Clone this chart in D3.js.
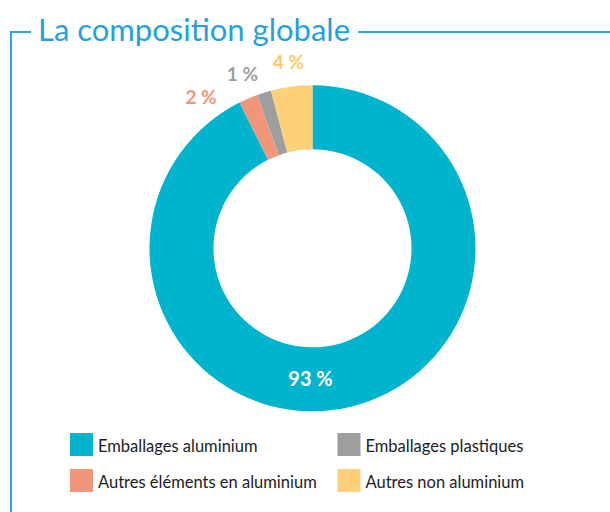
<!DOCTYPE html>
<html>
<head>
<meta charset="utf-8">
<script src="https://cdn.jsdelivr.net/npm/d3@7/dist/d3.min.js"></script>
<style>
  html, body { margin: 0; padding: 0; background: #fff; }
  svg { display: block; }
</style>
</head>
<body>
<svg id="chart" width="610" height="512"></svg>
<script>
// ---- data ----
const title = "La composition globale";
const categories = ["Emballages aluminium", "Autres éléments en aluminium", "Emballages plastiques", "Autres non aluminium"];
const values = [92.6, 1.9, 1.4, 4.1];
const labels = ["93 %", "2 %", "1 %", "4 %"];
const colors = ["#00b4cd", "#f1967b", "#9e9e9e", "#fed077"];
const labelColors = ["#ffffff", "#f1967b", "#9e9e9e", "#fdc96a"];
const legendOrder = [0, 1, 2, 3]; // grid: left column top/bottom, then right column top/bottom

const svg = d3.select("#chart");
const frameColor = "#2ba6e0";
const font = "Lato, 'Open Sans', sans-serif";

// ---- title & frame ----
const titleText = svg.append("text")
  .attr("x", 38).attr("y", 41)
  .attr("font-family", font)
  .attr("font-size", 31)
  .attr("fill", "#1fa2dc")
  .text(title);
const tw = titleText.node().getComputedTextLength();
svg.append("path")
  .attr("d", `M11,512 V32 H31 M${38 + tw + 8},32 H610`)
  .attr("fill", "none")
  .attr("stroke", frameColor)
  .attr("stroke-width", 2);

// ---- donut ----
const cx = 312.5, cy = 248.3, rOuter = 163, rInner = 99;
const g = svg.append("g").attr("transform", `translate(${cx},${cy})`);
const pie = d3.pie().sort(null).value(d => d);
const arcs = pie(values);
const arc = d3.arc().innerRadius(rInner).outerRadius(rOuter);

g.selectAll("path.slice")
  .data(arcs)
  .join("path")
  .attr("class", "slice")
  .attr("d", arc)
  .attr("fill", (d, i) => colors[i]);

// ---- labels ----
const midR = (rInner + rOuter) / 2;
g.append("text")
  .attr("x", -2)
  .attr("y", midR - 1)
  .attr("text-anchor", "middle")
  .attr("dominant-baseline", "central")
  .attr("font-family", font)
  .attr("font-weight", 700)
  .attr("font-size", 20)
  .attr("fill", labelColors[0])
  .text(labels[0]);

const small = arcs.slice(1).map((d, k) => ({ i: k + 1, a: 2 * Math.PI - (d.startAngle + d.endAngle) / 2 }));
small.sort((p, q) => p.a - q.a);
const minSep = 14.5 * Math.PI / 180;
for (let k = 1; k < small.length; k++) {
  if (small[k].a < small[k - 1].a + minSep) small[k].a = small[k - 1].a + minSep;
}
const rLabel = 188;
small.forEach(s => {
  g.append("text")
    .attr("x", -Math.sin(s.a) * rLabel)
    .attr("y", -Math.cos(s.a) * rLabel)
    .attr("text-anchor", "middle")
    .attr("dominant-baseline", "central")
    .attr("font-family", font)
    .attr("font-weight", 700)
    .attr("font-size", 19)
    .attr("fill", labelColors[s.i])
    .text(labels[s.i]);
});

// ---- legend ----
const legX = [70, 337.5], legY = [433, 469], sw = 23;
legendOrder.forEach((ci, pos) => {
  const col = Math.floor(pos / 2), row = pos % 2;
  const lg = svg.append("g").attr("transform", `translate(${legX[col]},${legY[row]})`);
  lg.append("rect").attr("width", sw).attr("height", sw).attr("fill", colors[ci]);
  lg.append("text")
    .attr("x", sw + 5)
    .attr("y", sw / 2 + 1)
    .attr("dominant-baseline", "central")
    .attr("font-family", font)
    .attr("font-size", 16.5)
    .attr("fill", "#1c1c24")
    .text(categories[ci]);
});
</script>
</body>
</html>
